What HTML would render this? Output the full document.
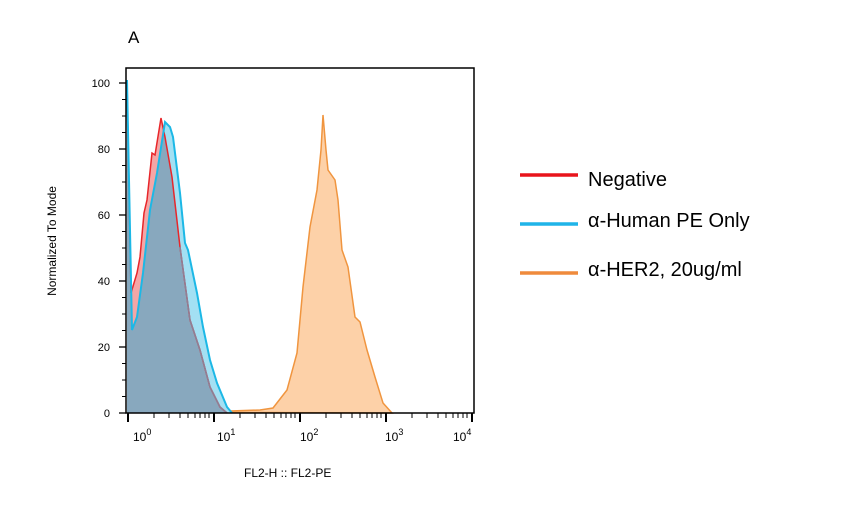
<!DOCTYPE html>
<html><head><meta charset="utf-8"><style>body{margin:0;background:#fff}svg{display:block}</style></head><body>
<svg width="846" height="523" viewBox="0 0 846 523" xmlns="http://www.w3.org/2000/svg" font-family="Liberation Sans, sans-serif">
<defs>
<clipPath id="bc"><path d="M127,413 L127,80 L132,330 L137,317 L143,273 L150,210 L157,173 L165,122 L170,127 L173,137 L180,193 L185,243 L188,250 L197,293 L203,327 L210,360 L217,383 L227,407 L232,413 Z"/></clipPath>
</defs>
<text x="128" y="43" font-size="17">A</text>
<!-- orange -->
<path d="M127,412 L150,411 L160,409 L170,410 L190,410 L210,412 L230,411 L260,410 L273,408 L287,390 L297,353 L303,287 L310,227 L317,190 L321,150 L323,115 L326,150 L328,170 L335,180 L338,200 L342,250 L348,267 L355,317 L360,322 L367,350 L375,377 L383,403 L392,413 Z" fill="#fdd1a8" stroke="#f0953f" stroke-width="1.5"/>
<!-- blue fill -->
<path d="M127,413 L127,80 L132,330 L137,317 L143,273 L150,210 L157,173 L165,122 L170,127 L173,137 L180,193 L185,243 L188,250 L197,293 L203,327 L210,360 L217,383 L227,407 L232,413 Z" fill="#a3e0f3"/>
<!-- red fill -->
<path d="M127,413 L127,80 L131,293 L137,273 L140,257 L144,213 L147,200 L152,153 L155,155 L161,118 L165,137 L172,177 L180,247 L190,320 L200,350 L210,387 L220,407 L227,413 Z" fill="#f4a6a6"/>
<path d="M127,413 L127,80 L131,293 L137,273 L140,257 L144,213 L147,200 L152,153 L155,155 L161,118 L165,137 L172,177 L180,247 L190,320 L200,350 L210,387 L220,407 L227,413 Z" fill="#88a8be" clip-path="url(#bc)"/>
<path d="M127,80 L131,293 L137,273 L140,257 L144,213 L147,200 L152,153 L155,155 L161,118 L165,137 L172,177 L180,247 L190,320 L200,350 L210,387 L220,407 L227,413" fill="none" stroke="#e8262a" stroke-width="1.5"/>
<path d="M127,80 L132,330 L137,317 L143,273 L150,210 L157,173 L165,122 L170,127 L173,137 L180,193 L185,243 L188,250 L197,293 L203,327 L210,360 L217,383 L227,407 L232,413" fill="none" stroke="#1cb8e6" stroke-width="2"/>
<path d="M180,247 L190,320 L200,350 L210,387 L220,407 L227,413" fill="none" stroke="#8f7f95" stroke-width="1.5"/>
<!-- frame -->
<rect x="126" y="68" width="348" height="345" fill="none" stroke="#000" stroke-width="1.5"/>
<g stroke="#000" stroke-width="1.3">
<line x1="119" y1="413" x2="126" y2="413"/><line x1="119" y1="347" x2="126" y2="347"/><line x1="119" y1="281" x2="126" y2="281"/><line x1="119" y1="215" x2="126" y2="215"/><line x1="119" y1="149" x2="126" y2="149"/><line x1="119" y1="83" x2="126" y2="83"/>
<path d="M122,396.5h4M122,380h4M122,363.5h4M122,330.5h4M122,314h4M122,297.5h4M122,264.5h4M122,248h4M122,231.5h4M122,198.5h4M122,182h4M122,165.5h4M122,132.5h4M122,116h4M122,99.5h4" stroke-width="1"/>
</g>
<g stroke="#000" stroke-width="1" id="xt"></g>
<g font-size="11" fill="#000" text-anchor="end">
<text x="110" y="417">0</text><text x="110" y="351">20</text><text x="110" y="285">40</text><text x="110" y="219">60</text><text x="110" y="153">80</text><text x="110" y="87">100</text>
</g>
<text transform="translate(56,241) rotate(-90)" font-size="12" text-anchor="middle">Normalized To Mode</text>
<g font-size="12" fill="#000">
<text x="133" y="441">10<tspan dy="-6" font-size="9">0</tspan></text>
<text x="217" y="441">10<tspan dy="-6" font-size="9">1</tspan></text>
<text x="300" y="441">10<tspan dy="-6" font-size="9">2</tspan></text>
<text x="385" y="441">10<tspan dy="-6" font-size="9">3</tspan></text>
<text x="453" y="441">10<tspan dy="-6" font-size="9">4</tspan></text>
</g>
<text x="244" y="477" font-size="12">FL2-H :: FL2-PE</text>
<g stroke-width="3.5">
<line x1="520" y1="175" x2="578" y2="175" stroke="#e8141c"/>
<line x1="520" y1="224" x2="578" y2="224" stroke="#1fb4e8"/>
<line x1="520" y1="273" x2="578" y2="273" stroke="#ef8a3c"/>
</g>
<g font-size="20" fill="#000">
<text x="588" y="186">Negative</text>
<text x="588" y="227">α-Human PE Only</text>
<text x="588" y="276">α-HER2, 20ug/ml</text>
</g>
<g stroke="#000" stroke-width="1">
<path d="M128,413v9M214,413v9M300,413v9M386,413v9M472,413v9" stroke-width="2"/>
<path id="m" d="M154,413v5M169,413v5M180,413v5M188,413v5M195,413v5M200,413v5M205,413v5M209,413v5"/>
<use href="#m" x="86"/><use href="#m" x="172"/><use href="#m" x="258"/>
</g>
</svg>
</body></html>
